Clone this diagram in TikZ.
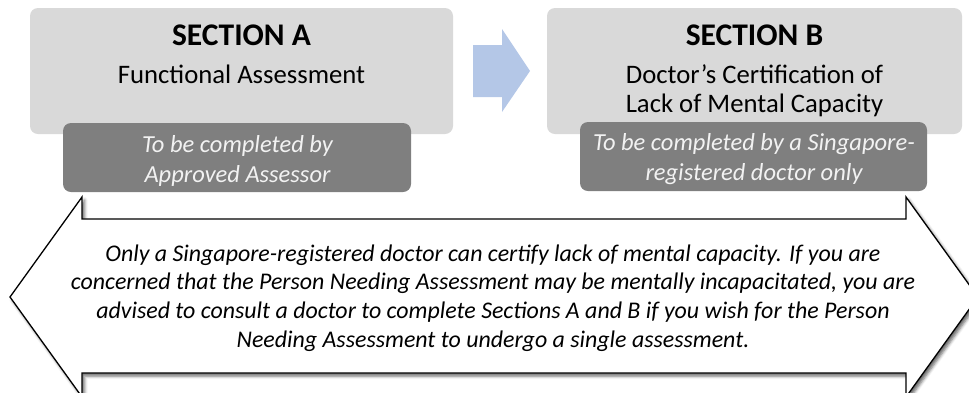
\documentclass[tikz,border=0pt]{standalone}
\usepackage{fontspec}
\setmainfont{Carlito}
\usetikzlibrary{shadows.blur}
\definecolor{boxgray}{HTML}{D9D9D9}
\definecolor{subgray}{HTML}{7F7F7F}
\definecolor{arrowblue}{HTML}{B4C7E7}
\definecolor{subtext}{HTML}{F2F2F2}
\tikzset{
  mainbox/.style={draw=none, fill=boxgray, rounded corners=8pt, inner sep=0pt},
  subbox/.style={draw=none, fill=subgray, rounded corners=8pt, inner sep=0pt},
  titletxt/.style={anchor=base, inner sep=0pt, font=\fontsize{31.5}{38}\selectfont\bfseries},
  desctxt/.style={anchor=base, inner sep=0pt, font=\fontsize{26.7}{30}\selectfont},
  subtxt/.style={anchor=base, inner sep=0pt, text=subtext, font=\fontsize{24.5}{28}\selectfont\itshape},
  bodytxt/.style={anchor=base, inner sep=0pt, font=\fontsize{23.9}{28}\selectfont\itshape},
  bigarrow/.style={draw=black, fill=white, line width=1.3pt, line join=miter,
    blur shadow={shadow xshift=2.5pt, shadow yshift=-3pt, shadow opacity=60, shadow blur radius=3pt}},
  bluearrow/.style={draw=none, fill=arrowblue}
}
\begin{document}
\begin{tikzpicture}[x=1pt, y=-1pt]
\useasboundingbox (0,0) rectangle (969,392);
\clip (0,0) rectangle (969,392);
% big double arrow
\draw[bigarrow] (10,297) -- (82,197) -- (82,219) -- (906,219) -- (906,197) -- (978,297)
  -- (906,397) -- (906,373) -- (82,373) -- (82,397) -- cycle;
% section boxes
\node[mainbox, minimum width=423pt, minimum height=126pt] (boxA) at (241.5,71) {};
\node[mainbox, minimum width=415pt, minimum height=126pt] (boxB) at (754.5,71) {};
\node[subbox, minimum width=348pt, minimum height=69pt] (subA) at (237,157.5) {};
\node[subbox, minimum width=347pt, minimum height=69pt] (subB) at (753.5,156.5) {};
% blue arrow
\fill[bluearrow] (473,45) -- (502,45) -- (502,29) -- (530,71) -- (502,112) -- (502,97) -- (473,97) -- cycle;
% texts
\node[titletxt] (tA) at (241.5,45) {SECTION A};
\node[desctxt] (dA) at (241.5,83) {Functional Assessment};
\node[titletxt] (tB) at (754.5,45) {SECTION B};
\node[desctxt] (dB1) at (754.5,83) {Doctor’s Certification of};
\node[desctxt] (dB2) at (754.5,112) {Lack of Mental Capacity};
\node[subtxt] (sA1) at (237.5,152) {To be completed by};
\node[subtxt] (sA2) at (237.5,182) {Approved Assessor};
\node[subtxt] (sB1) at (754,150) {To be completed by a Singapore-};
\node[subtxt] (sB2) at (754,180) {registered doctor only};
\node[bodytxt] (b1) at (493,261) {Only a Singapore-registered doctor can certify lack of mental capacity. If you are};
\node[bodytxt] (b2) at (493,289.7) {concerned that the Person Needing Assessment may be mentally incapacitated, you are};
\node[bodytxt] (b3) at (493,318.4) {advised to consult a doctor to complete Sections A and B if you wish for the Person};
\node[bodytxt] (b4) at (493,347) {Needing Assessment to undergo a single assessment.};
\end{tikzpicture}
\end{document}
